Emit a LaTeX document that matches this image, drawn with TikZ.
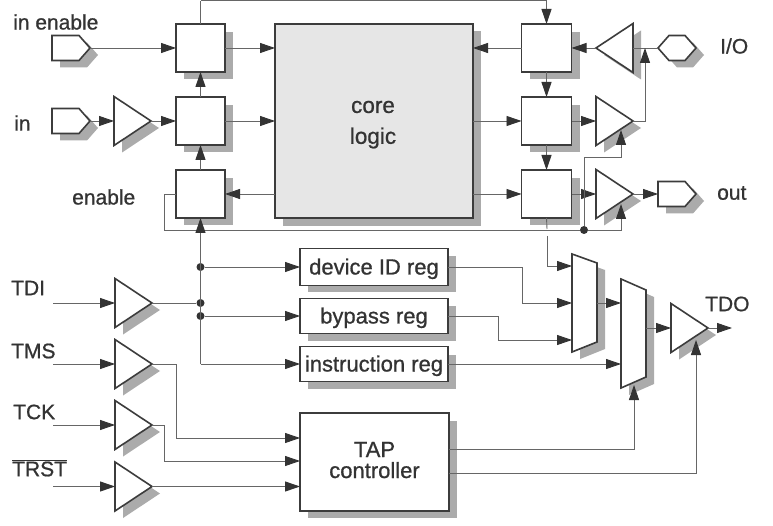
\documentclass[tikz,border=0pt]{standalone}
\usepackage{fontspec}
\setmainfont[FakeBold=0.8]{Liberation Sans}
\usetikzlibrary{arrows.meta,calc}
\definecolor{inkc}{HTML}{3C3C3C}
\definecolor{wirec}{HTML}{666666}
\definecolor{tipc}{HTML}{333333}
\definecolor{shadc}{HTML}{ABABAB}
\definecolor{corec}{HTML}{E6E6E6}
\definecolor{txtc}{HTML}{333333}
\tikzset{
  outline/.style={draw=inkc,line width=1.6pt,fill=white,line join=miter},
  shadfill/.style={fill=shadc,draw=none},
  regbox/.style={outline,rectangle,inner sep=0pt,outer sep=0pt},
  gatebox/.style={rectangle,inner sep=0pt,outer sep=0pt,draw=none,fill=none},
  wire/.style={draw=wirec,line width=0.9pt},
  wirea/.style={wire,-{Triangle[length=15pt,width=10pt,color=tipc]}},
  dotn/.style={circle,fill=tipc,inner sep=0pt,minimum size=8pt},
  lbl/.style={text=txtc,font=\fontsize{21}{23}\selectfont,inner sep=0pt,anchor=west},
  ctr/.style={text=txtc,font=\fontsize{22.5}{24}\selectfont,inner sep=0pt,anchor=center},
}
\newcommand{\lowtxt}[2]{\raisebox{-#1pt}[0pt][0pt]{#2}}
% name, x, centre y, width, height, outline
\newcommand{\gatepoly}[6]{%
  \begin{scope}[shift={(#2,#3)}]
    \fill[shadfill,shift={(8,7)}] #6 -- cycle;
    \draw[outline] #6 -- cycle;
    \node[gatebox,minimum width=#4pt,minimum height=#5pt] (#1) at (#4/2,0) {};
  \end{scope}}
\newcommand{\bufR}[3]{\gatepoly{#1}{#2}{#3}{37}{49}{(0,-24.5) -- (37,0) -- (0,24.5)}}
\newcommand{\bufL}[3]{\gatepoly{#1}{#2}{#3}{37}{49}{(37,-24.5) -- (0,0) -- (37,24.5)}}
\newcommand{\padR}[3]{\gatepoly{#1}{#2}{#3}{38}{25}{(0,-12.5) -- (27,-12.5) -- (38,0) -- (27,12.5) -- (0,12.5)}}
\newcommand{\padH}[3]{\gatepoly{#1}{#2}{#3}{38}{25}{(0,0) -- (11,-12.5) -- (27,-12.5) -- (38,0) -- (27,12.5) -- (11,12.5)}}
% name, centre x, centre y, width, height, text
\newcommand{\reg}[6]{%
  \fill[shadfill] (#2-#4/2+8,#3-#5/2+8) rectangle (#2+#4/2+8,#3+#5/2+7);
  \node[regbox,minimum width=#4pt,minimum height=#5pt,align=center,text=txtc,font=\fontsize{22}{21}\selectfont] (#1) at (#2,#3) {#6};}
\begin{document}
\begin{tikzpicture}[x=1pt,y=-1pt]
\useasboundingbox[fill=white] (0,0) rectangle (773,526);
% core
\fill[shadfill] (283,31) rectangle (481,226);
\node[regbox,fill=corec,minimum width=198pt,minimum height=194pt] (core) at (374,121) {};
\node[ctr] (coretxt) at (373,107) {core};
\node[ctr] (logictxt) at (373,138) {logic};
% left registers
\reg{rie}{200.5}{48}{49}{48}{}
\reg{rin}{200.5}{121}{49}{48}{}
\reg{ren}{200.5}{194}{49}{48}{}
% right registers
\reg{rio}{546.5}{48}{50}{48}{}
\reg{rou}{546.5}{121}{50}{48}{}
\reg{rop}{546.5}{194}{50}{48}{}
% scan registers
\reg{devreg}{374}{267}{148}{37}{\lowtxt{7.5}{device ID reg}}
\reg{bypreg}{374}{316}{148}{35}{\lowtxt{7.5}{bypass reg}}
\reg{insreg}{374}{364}{148}{35}{\lowtxt{7.5}{instruction reg}}
\reg{tap}{374.5}{462}{149}{98}{\lowtxt{5.5}{TAP}\\\lowtxt{5.5}{controller}}
% pads and buffers
\padR{pie}{52}{48}
\padR{pin}{52}{121}
\bufR{bin}{114}{121}
\bufL{bio}{596}{48}
\padH{pio}{658}{48}
\bufR{bou}{596}{121}
\bufR{bop}{596}{194}
\padR{pou}{658}{194}
\bufR{btdi}{115}{303}
\bufR{btms}{115}{364}
\bufR{btck}{115}{425}
\bufR{btrs}{115}{486.5}
\gatepoly{mxa}{572}{303}{25}{98}{(0,-49) -- (25,-40) -- (25,39) -- (0,49)}
\gatepoly{mxb}{621}{333.5}{25}{109}{(0,-54.5) -- (25,-43.5) -- (25,43.5) -- (0,54.5)}
\bufR{btdo}{671}{328}
% free ends and junctions
\coordinate (tdi) at (53,303);
\coordinate (tms) at (53,364);
\coordinate (tck) at (53,425);
\coordinate (trs) at (53,486.5);
\coordinate (tdoend) at (732,328);
\coordinate (toptop) at (200.5,0.6);
\coordinate (bouen) at (621,130);
\coordinate (bopen) at (621,204);
\coordinate (tdoen) at (696,340);
\coordinate (mxsel) at (634,385);
\coordinate (ioup) at (645,48);
\coordinate (mxa1) at (572,266);
\coordinate (mxa2) at (572,303);
\coordinate (mxa3) at (572,340);
\coordinate (mxb2) at (621,364);
\coordinate (tap1) at (300,438);
\coordinate (tap2) at (300,461);
\coordinate (vbot) at (200.5,364);
\coordinate (hop) at (547,236);
\coordinate (hopb) at (547,229);
\node[dotn] (d1) at (200.5,267) {};
\node[dotn] (d2) at (200.5,303) {};
\node[dotn] (d3) at (200.5,316) {};
\node[dotn] (dout) at (584,230) {};
% top side
\draw[wirea] (pie.east) -- (rie.west);
\draw[wirea] (pin.east) -- (bin.west);
\draw[wirea] (bin.east) -- (rin.west);
\draw[wirea] (rie.east) -- (rie.east -| core.west);
\draw[wirea] (rin.east) -- (rin.east -| core.west);
\draw[wirea] (ren.east -| core.west) -- (ren.east);
\draw[wirea] (rin.north) -- (rie.south);
\draw[wirea] (ren.north) -- (rin.south);
\draw[wire] (rie.north) -- (toptop);
\draw[wirea] (toptop) -- (toptop -| rio.north) -- (rio.north);
\draw[wirea] (rio.west) -- (rio.west -| core.east);
\draw[wirea] (rou.west -| core.east) -- (rou.west);
\draw[wirea] (rop.west -| core.east) -- (rop.west);
\draw[wirea] (rio.south) -- (rou.north);
\draw[wirea] (rou.south) -- (rop.north);
\draw[wirea] (bio.west) -- (rio.east);
\draw[wirea] (rou.east) -- (bou.west);
\draw[wirea] (rop.east) -- (bop.west);
\draw[wire] (pio.west) -- (bio.east);
\draw[wirea] (bou.east) -| (ioup);
\draw[wirea] (bop.east) -- (pou.west);
\draw[wire] (ren.west) -- ++(-12,0) |- (dout);
\draw[wirea] (dout) |- ($(bouen)+(0,27)$) -- (bouen);
\draw[wirea] (dout) -| (bopen);
\draw[wire] (rop.south) -- (hopb);
\draw[wirea] (hop) |- (mxa1);
% scan path
\draw[wirea] (vbot) -- (ren.south);
\draw[wirea] (d1) -- (devreg.west);
\draw[wirea] (d3) -- (d3 -| bypreg.west);
\draw[wirea] (vbot) -- (insreg.west);
\draw[wirea] (tdi) -- (btdi.west);
\draw[wirea] (tms) -- (btms.west);
\draw[wirea] (tck) -- (btck.west);
\draw[wirea] (trs) -- (btrs.west);
\draw[wire] (btdi.east) -- (d2);
\draw[wirea] (btms.east) -- ++(24,0) |- (tap1);
\draw[wirea] (btck.east) -- ++(12,0) |- (tap2);
\draw[wirea] (btrs.east) -- (btrs.east -| tap.west);
\draw[wirea] (devreg.east) -- ++(74,0) |- (mxa2);
\draw[wirea] (bypreg.east) -- ++(50,0) |- (mxa3);
\draw[wirea] (insreg.east) -- (mxb2);
\draw[wirea] (mxa2 -| mxa.east) -- (mxa2 -| mxb.west);
\draw[wirea] (btdo.west -| mxb.east) -- (btdo.west);
\draw[wirea] (btdo.east) -- (tdoend);
\draw[wirea] ($(tap.east)+(0,-13)$) -| (mxsel);
\draw[wirea] ($(tap.east)+(0,11)$) -| (tdoen);
% labels
\node[lbl] (tie) at (13,22) {in enable};
\node[lbl] (tin) at (14,123) {in};
\node[lbl] (ten) at (72,197) {enable};
\node[lbl] (tio) at (720,46) {I/O};
\node[lbl] (tou) at (717,193) {out};
\node[lbl] (ttdi) at (11,288) {TDI};
\node[lbl] (ttms) at (11,351) {TMS};
\node[lbl] (ttck) at (13,412) {TCK};
\node[lbl] (ttrs) at (12,468) {$\overline{\mbox{TRST}}$};
\node[lbl] (ttdo) at (705,304) {TDO};
\end{tikzpicture}
\end{document}
